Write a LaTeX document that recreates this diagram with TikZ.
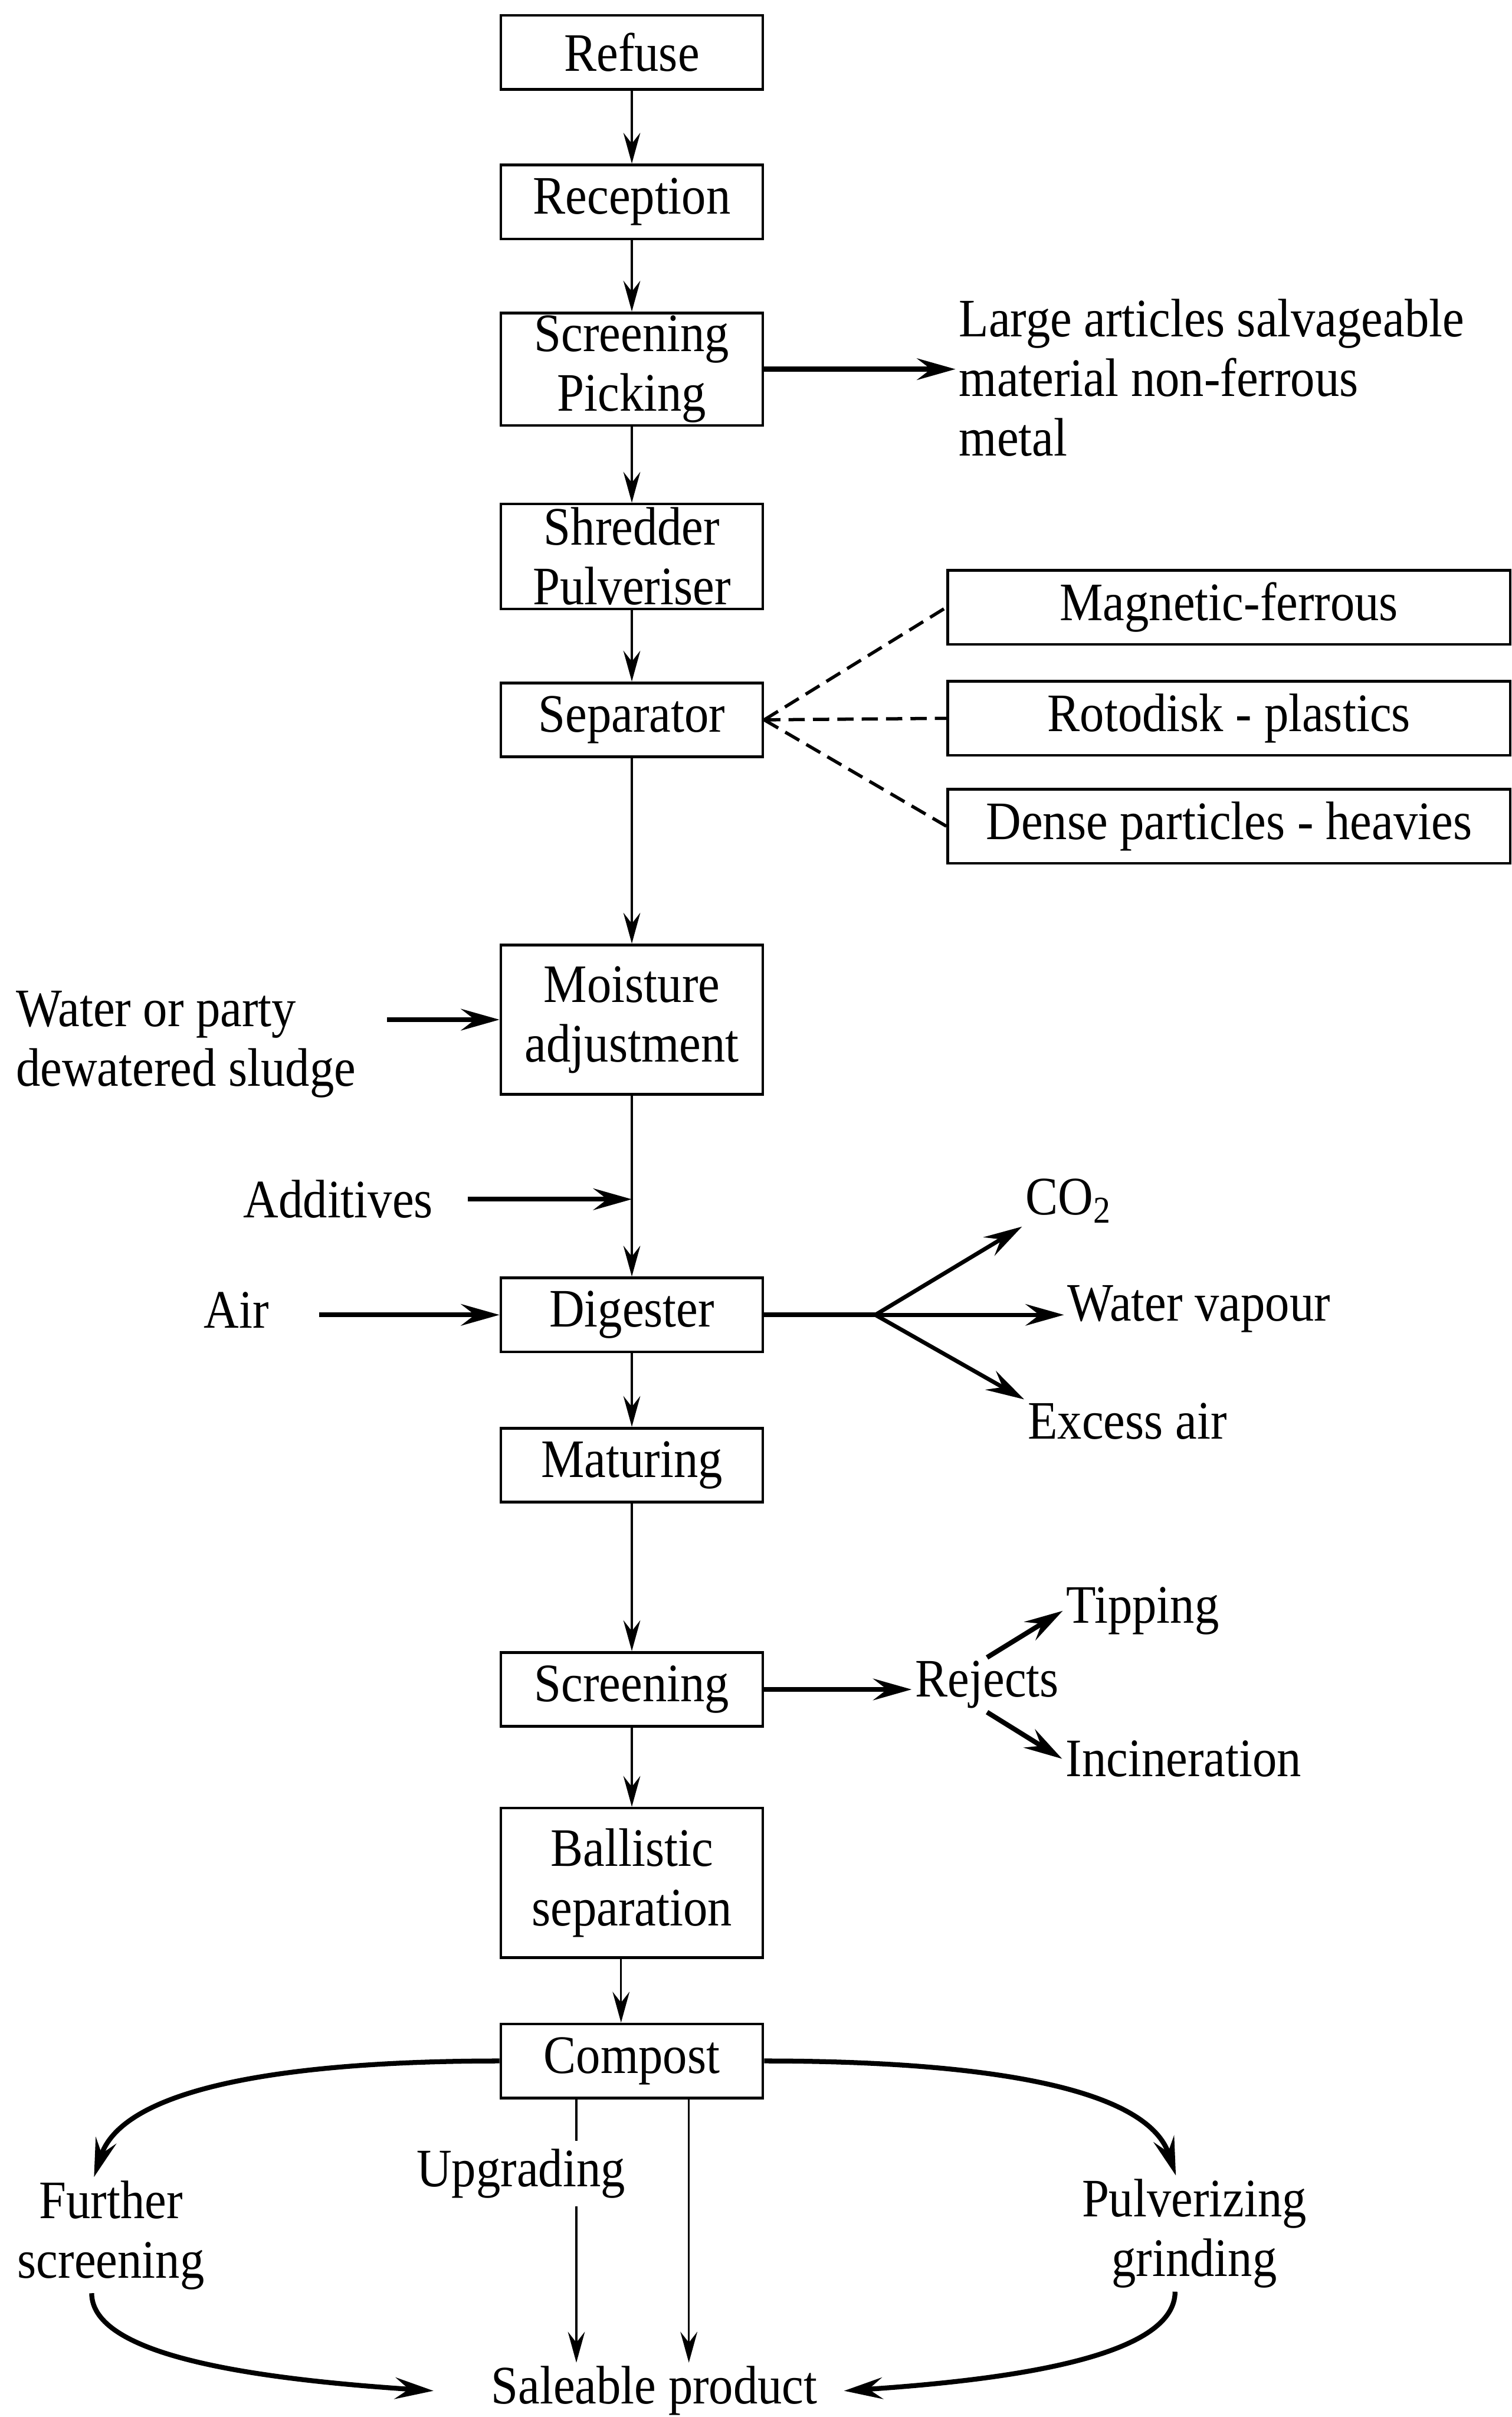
\documentclass[tikz,border=0pt]{standalone}
\usepackage{fontspec}
\setmainfont[FakeStretch=0.9]{Liberation Serif}
\usetikzlibrary{arrows.meta,positioning}

\begin{document}
\begin{tikzpicture}[->,>={Stealth[length=4mm,width=2.2mm,inset=1.4mm]},line width=0.7pt,
  font=\fontsize{20}{22}\selectfont,
  box/.style={draw,line width=1pt,minimum width=3.4cm,minimum height=0.96cm,align=center,inner sep=1pt},
  sidebox/.style={box,minimum width=7.3cm},
  txt/.style={align=center,inner sep=1pt},
  heavy/.style={-{Stealth[length=5mm,width=2.8mm,inset=1.8mm]},line width=1.8pt},
  dashline/.style={-,line width=1.2pt,dash pattern=on 6pt off 3pt}]
  \useasboundingbox (0,0) rectangle (19.62,-31.36);

  % main column
  \node[box]                        (refuse)    at (8.2,-0.68)  {Refuse};
  \node[box]                        (reception) at (8.2,-2.62)  {Reception};
  \node[box,minimum height=1.42cm]  (picking)   at (8.2,-4.79)  {Screening\\Picking};
  \node[box,minimum height=1.36cm]  (shredder)  at (8.2,-7.22)  {Shredder\\Pulveriser};
  \node[box]                        (separator) at (8.2,-9.34)  {Separator};
  \node[box,minimum height=1.94cm]  (moisture)  at (8.2,-13.23) {Moisture\\adjustment};
  \node[box]                        (digester)  at (8.2,-17.06) {Digester};
  \node[box]                        (maturing)  at (8.2,-19.01) {Maturing};
  \node[box]                        (screen)    at (8.2,-21.92) {Screening};
  \node[box,minimum height=1.94cm]  (ballistic) at (8.2,-24.43) {Ballistic\\separation};
  \node[box]                        (compost)   at (8.2,-26.74) {Compost};

  % separator outputs
  \node[sidebox] (magnetic) at (15.95,-7.88)  {Magnetic-ferrous};
  \node[sidebox] (rotodisk) at (15.95,-9.32)  {Rotodisk - plastics};
  \node[sidebox] (dense)    at (15.95,-10.72) {Dense particles - heavies};

  % side texts
  \node[txt,align=left,anchor=west] (large) at (12.4,-4.9) {Large articles salvageable\\material non-ferrous\\metal};
  \node[txt,align=left,anchor=west] (water) at (0.16,-13.55) {Water or party\\dewatered sludge};
  \node[txt] (additives) at (4.39,-15.56) {Additives};
  \node[txt] (air)       at (3.07,-17.0)  {Air};
  \node[txt] (co2)       at (13.87,-15.58) {CO\textsubscript{2}};
  \node[txt] (vapour)    at (15.56,-16.98) {Water vapour};
  \node[txt] (excess)    at (14.63,-18.44) {Excess air};
  \node[txt] (rejects)   at (12.81,-21.86) {Rejects};
  \node[txt] (tipping)   at (14.83,-20.9)  {Tipping};
  \node[txt] (incin)     at (15.36,-22.82) {Incineration};
  \node[txt] (further)   at (1.44,-29.0)   {Further\\screening};
  \node[txt] (pulver)    at (15.5,-28.98)  {Pulverizing\\grinding};
  \node[txt] (saleable)  at (8.49,-31.02)  {Saleable product};
  \coordinate (fork) at (11.36,-17.06);

  \path (refuse) edge (reception)
        (reception) edge (picking)
        (picking) edge (shredder)
        (shredder) edge (separator)
        (separator) edge (moisture)
        (moisture) edge (digester)
        (digester) edge (maturing)
        (maturing) edge (screen)
        (screen) edge (ballistic)
        ([xshift=-1.4mm]ballistic.south) edge ([xshift=-1.4mm]compost.north);

  \path[dashline] (separator.east) edge (magnetic.west)
                                   edge (rotodisk.west)
                                   edge (dense.west);

  \path[heavy] (picking.east) edge (large.west |- picking.east)
        ([xshift=3.6mm]water.east |- moisture.west) edge (moisture.west)
        ([xshift=4mm]additives.east) edge (additives.east -| moisture.south)
        ([xshift=6mm]air.east |- digester.west) edge (digester.west)
        (screen.east) edge (rejects.west |- screen.east)
        (rejects.north) edge (tipping.west)
        (rejects.south) edge (incin.west);

  \draw[-,line width=1.8pt] (digester.east) -- (fork);
  \path[heavy,line width=1.5pt] (fork) edge (co2.south west)
                                       edge (vapour.west |- fork)
                                       edge (excess.north west);

  % compost outputs
  \draw[heavy] (compost.west) .. controls +(-2.5,0) and +(0.4,1.22) .. ([xshift=-2.2mm]further.north);
  \draw[heavy] ([xshift=-2.5mm]further.south) .. controls +(0,-0.8) and +(-2.4,0.16) .. ([xshift=-7mm]saleable.west);
  \draw[heavy] (compost.east) .. controls +(2.5,0) and +(-0.4,1.22) .. ([xshift=-2.4mm]pulver.north);
  \draw[heavy] ([xshift=-2.5mm]pulver.south) .. controls +(0,-0.8) and +(2.4,0.16) .. ([xshift=3mm]saleable.east);
  \draw ([xshift=-7.2mm]compost.south) -- ([xshift=-7.2mm]compost.south |- saleable.north);
  \draw ([xshift=7.4mm]compost.south) -- ([xshift=7.4mm]compost.south |- saleable.north);
  \node[txt,fill=white,inner sep=3pt] (upgrading) at (6.76,-28.2) {Upgrading};
\end{tikzpicture}
\end{document}
